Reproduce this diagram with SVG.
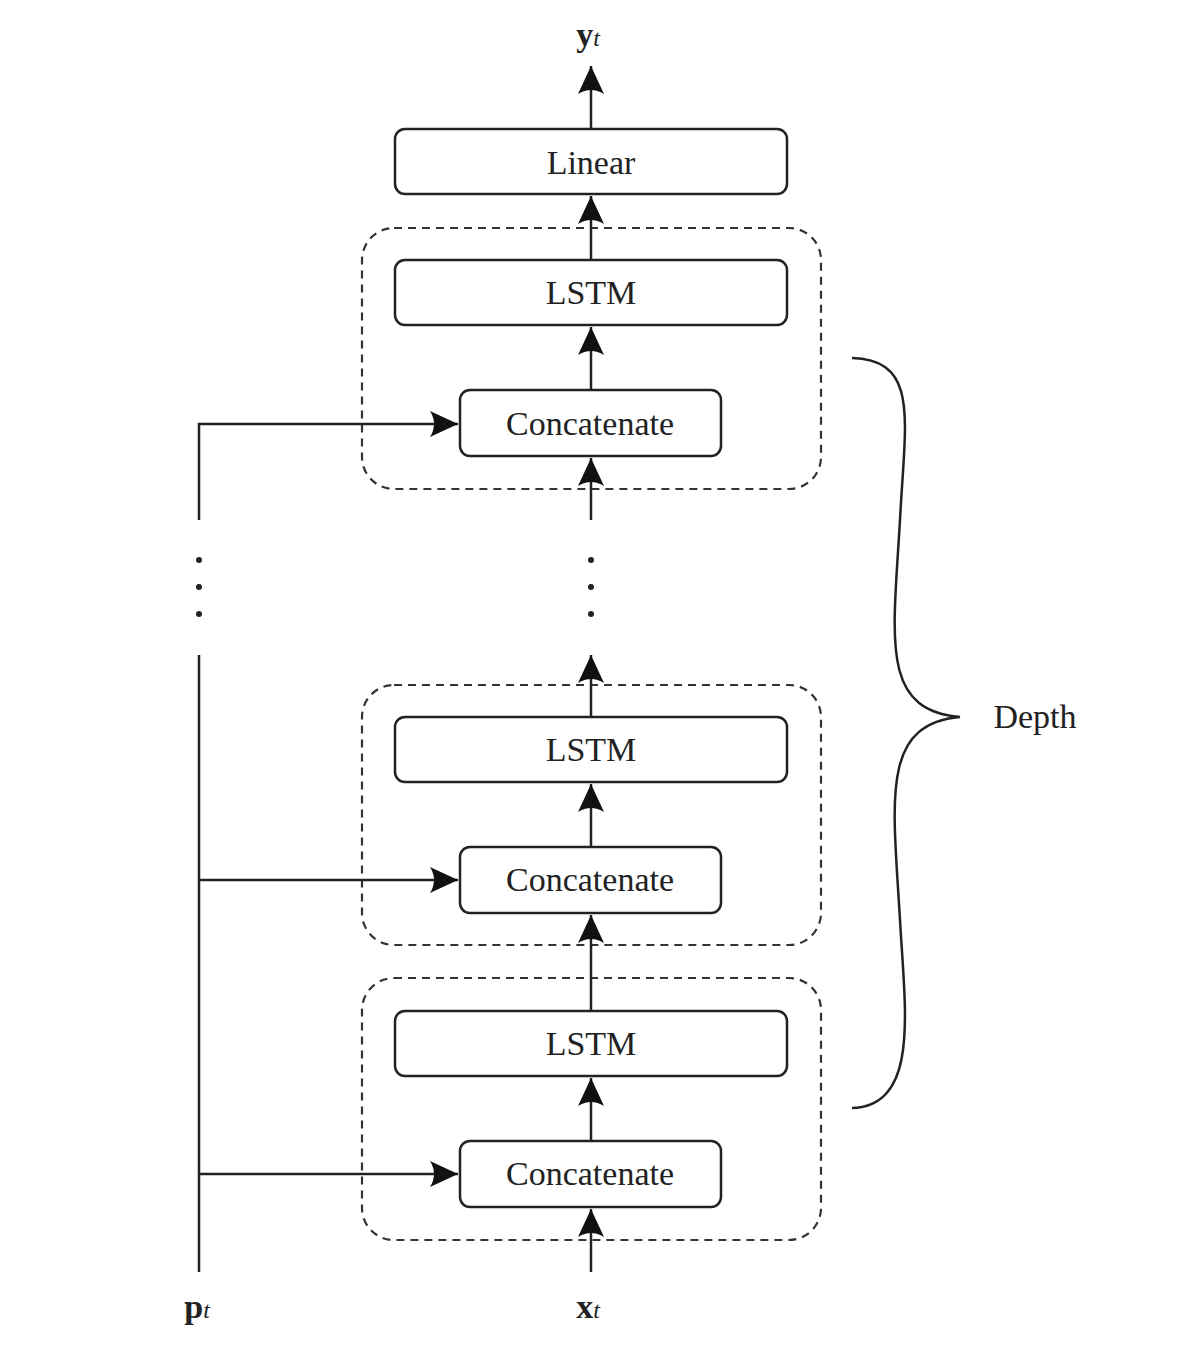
<svg xmlns="http://www.w3.org/2000/svg" width="1200" height="1353" viewBox="0 0 1200 1353">
<style>
.box{fill:#fff;stroke:#222;stroke-width:2.5}
.grp{fill:none;stroke:#333;stroke-width:2.2;stroke-dasharray:8 6}
.ln{fill:none;stroke:#222;stroke-width:2.5}
.t{font-family:"Liberation Serif",serif;font-size:34px;fill:#222;text-anchor:middle}
</style>
<defs>
<marker id="ah" markerWidth="30" markerHeight="30" viewBox="0 0 30 30" refX="28" refY="15" orient="auto" markerUnits="userSpaceOnUse">
<path d="M28,15 L0,2 Q8,15 0,28 Z" fill="#111"/>
</marker>
</defs>
<rect width="1200" height="1353" fill="#fff"/>
<g id="groups">
<rect class="grp" x="362" y="228" width="459" height="261" rx="32"/>
<rect class="grp" x="362" y="685" width="459" height="260" rx="32"/>
<rect class="grp" x="362" y="978" width="459" height="262" rx="32"/>
</g>
<g id="connectors">
<line class="ln" x1="591" y1="129" x2="591" y2="66" marker-end="url(#ah)"/>
<line class="ln" x1="591" y1="260" x2="591" y2="196" marker-end="url(#ah)"/>
<line class="ln" x1="591" y1="390" x2="591" y2="327" marker-end="url(#ah)"/>
<line class="ln" x1="591" y1="520" x2="591" y2="458" marker-end="url(#ah)"/>
<line class="ln" x1="591" y1="717" x2="591" y2="655" marker-end="url(#ah)"/>
<line class="ln" x1="591" y1="847" x2="591" y2="784" marker-end="url(#ah)"/>
<line class="ln" x1="591" y1="1011" x2="591" y2="915" marker-end="url(#ah)"/>
<line class="ln" x1="591" y1="1141" x2="591" y2="1078" marker-end="url(#ah)"/>
<line class="ln" x1="591" y1="1272" x2="591" y2="1209" marker-end="url(#ah)"/>
<path class="ln" d="M199,520 V424 H458" marker-end="url(#ah)"/>
<line class="ln" x1="199" y1="655" x2="199" y2="1272"/>
<line class="ln" x1="199" y1="880" x2="458" y2="880" marker-end="url(#ah)"/>
<line class="ln" x1="199" y1="1174" x2="458" y2="1174" marker-end="url(#ah)"/>
<g fill="#222"><circle cx="199" cy="560" r="3"/><circle cx="199" cy="587" r="3"/><circle cx="199" cy="614" r="3"/>
<circle cx="591" cy="560" r="3"/><circle cx="591" cy="587" r="3"/><circle cx="591" cy="614" r="3"/></g>
<path class="ln" stroke-width="2" d="M852,358 C920,360 905,420 900,520 C893,640 880,710 960,717 C880,724 893,800 900,920 C905,1010 920,1106 852,1108"/>
</g>
<g id="linear"><rect class="box" x="395" y="129" width="392" height="65" rx="10"/><text class="t" x="591" y="174">Linear</text></g>
<g id="lstm1"><rect class="box" x="395" y="260" width="392" height="65" rx="10"/><text class="t" x="591" y="304">LSTM</text></g>
<g id="concat1"><rect class="box" x="460" y="390" width="261" height="66" rx="10"/><text class="t" x="590" y="435">Concatenate</text></g>
<g id="lstm2"><rect class="box" x="395" y="717" width="392" height="65" rx="10"/><text class="t" x="591" y="761">LSTM</text></g>
<g id="concat2"><rect class="box" x="460" y="847" width="261" height="66" rx="10"/><text class="t" x="590" y="891">Concatenate</text></g>
<g id="lstm3"><rect class="box" x="395" y="1011" width="392" height="65" rx="10"/><text class="t" x="591" y="1055">LSTM</text></g>
<g id="concat3"><rect class="box" x="460" y="1141" width="261" height="66" rx="10"/><text class="t" x="590" y="1185">Concatenate</text></g>
<g id="labels">
<text class="t" x="588" y="46"><tspan font-weight="bold">y</tspan><tspan font-style="italic" font-size="24">t</tspan></text>
<text class="t" x="197" y="1318"><tspan font-weight="bold">p</tspan><tspan font-style="italic" font-size="24">t</tspan></text>
<text class="t" x="588" y="1318"><tspan font-weight="bold">x</tspan><tspan font-style="italic" font-size="24">t</tspan></text>
<text class="t" x="1035" y="728">Depth</text>
</g>
</svg>
